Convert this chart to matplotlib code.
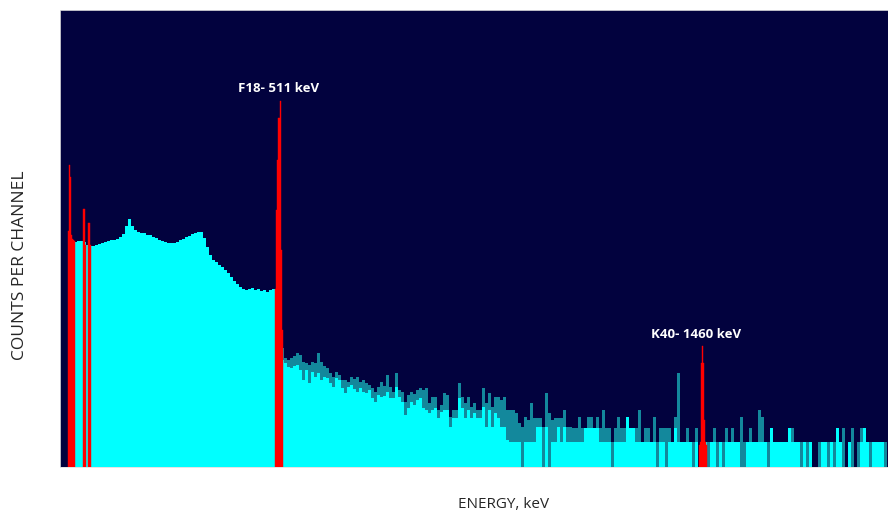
import matplotlib
matplotlib.use("Agg")
import matplotlib.pyplot as plt
import numpy as np

# energy calibration of the channels
first_channel_kev = 25.0
kev_per_channel = 6.714

# smooth part of the spectrum, channels 0-72 (below the 511 keV line)
continuum = [0, 0, 225, 225, 225, 226, 226, 225, 222, 221,
             221, 222, 223, 224, 225, 226, 227, 227, 228, 230,
             233, 241, 248, 241, 237, 235, 234, 234, 232, 232,
             230, 229, 227, 226, 225, 224, 224, 224, 225, 227,
             228, 230, 231, 233, 234, 235, 235, 229, 220, 212,
             207, 205, 202, 200, 197, 194, 190, 186, 183, 180,
             178, 177, 178, 179, 177, 178, 176, 177, 175, 177,
             178, 178, 178]

# noisy part above 511 keV: highest and lowest counts inside each channel
tail_top = [119, 109, 107, 109, 111, 114, 112, 105, 104, 102,
            105, 104, 114, 105, 101, 99, 94, 90, 95, 92,
            87, 87, 85, 90, 88, 90, 85, 87, 84, 82,
            79, 75, 80, 85, 81, 92, 80, 75, 94, 77,
            75, 65, 72, 75, 73, 77, 79, 77,
            79, 64, 70, 70, 57, 62, 74, 72, 50, 57,
            57, 84, 70, 64, 70, 60, 64, 57, 57, 79,
            64, 74, 60, 70, 70, 67, 70, 57, 57, 57,
            54, 44, 40, 50, 47, 64, 49, 49, 49, 40,
            74, 54, 47, 49, 49, 49, 57, 40, 40, 39,
            39, 50, 39, 39, 50, 50, 39, 50, 39, 57,
            39, 39, 25, 39, 50, 39, 39, 50, 39, 39,
            39, 57, 25, 39, 39, 25, 50, 25, 39, 39,
            39, 39, 25, 50, 94, 25, 25, 39, 25, 25,
            39, 0, 25, 25, 25, 25, 39, 25, 25, 25,
            39, 25,
            39, 25, 25, 50, 25, 25, 39, 25, 25, 57,
            50, 25, 25, 39, 25, 25, 25, 25, 25, 39,
            39, 25, 25, 25, 25, 25, 25, 0, 0, 25,
            25, 25, 25, 25, 25, 39, 25, 39, 0, 25,
            39, 0, 25, 39, 39, 25, 25, 25, 25, 25,
            25, 25]

tail_floor = [107, 104, 100, 99, 101, 102, 97, 87, 97, 84,
              95, 90, 94, 87, 90, 89, 84, 80, 89, 87,
              79, 74, 80, 82, 78, 75, 79, 75, 74, 77,
              69, 65, 72, 70, 71, 75, 69, 69, 80, 70,
              65, 52, 59, 65, 62, 67, 69, 59,
              57, 54, 57, 59, 49, 55, 57, 57, 40, 49,
              49, 69, 59, 49, 57, 49, 54, 49, 49, 60,
              40, 57, 40, 54, 49, 40, 40, 27, 25, 25,
              25, 25, 0, 25, 25, 25, 25, 40, 40, 0,
              40, 0, 25, 25, 40, 25, 40, 25, 25, 25,
              25, 25, 25, 39, 39, 39, 39, 39, 25, 25,
              25, 25, 0, 25, 25, 25, 25, 50, 39, 39,
              25, 25, 25, 25, 25, 25, 25, 0, 25, 25,
              0, 25, 25, 39, 25, 25, 25, 25, 25, 0,
              25, 0, 25, 25, 0, 25, 25, 0, 25, 0,
              25, 25,
              25, 25, 25, 0, 0, 25, 25, 25, 25, 25,
              25, 25, 0, 39, 25, 25, 25, 25, 25, 39,
              25, 25, 25, 0, 25, 0, 25, 0, 0, 0,
              25, 25, 0, 25, 0, 39, 25, 0, 0, 25,
              0, 0, 0, 25, 39, 25, 0, 25, 25, 25,
              25, 0]

# highlighted peaks (regions of interest), drawn in red
roi_kev = [39.6, 41.8, 44.0, 46.3, 48.5, 50.7, 53.0,
           73.1, 75.3, 77.6, 84.3, 86.5, 88.8,
           502.8, 505.0, 507.3, 509.5, 511.7, 514.0, 516.2, 518.4,
           1451.8, 1454.0, 1456.2, 1458.5, 1460.7, 1462.9, 1465.2, 1467.4]
roi_counts = [236, 302, 290, 232, 228, 227, 226,
              258, 258, 222, 244, 244, 222,
              178, 257, 307, 349, 349, 366, 217, 137,
              22, 25, 104, 121, 104, 47, 25, 22]
roi_width_kev = 2.24

peak_labels = ["F18- 511 keV", "K40- 1460 keV"]
peak_label_kev = [509, 1444]
peak_label_counts = [378, 132]

top = np.array(continuum + tail_top)
floor = np.array(continuum + tail_floor)
edges = first_channel_kev + kev_per_channel * np.arange(len(top) + 1)

fig = plt.figure(figsize=(8.88, 5.15), dpi=100)
ax = fig.add_axes([0.0676, 0.0932, 0.9324, 0.8874])
ax.set_facecolor("#02023e")

ax.stairs(top, edges, fill=True, color="#13889c")
ax.stairs(floor, edges, fill=True, color="#00ffff")
ax.bar(roi_kev, roi_counts, width=roi_width_kev, color="#ff0000",
       edgecolor="#ff0000", linewidth=0.3)

for txt, e, c in zip(peak_labels, peak_label_kev, peak_label_counts):
    ax.text(e, c, txt, color="white", fontsize=9.5, fontweight="bold",
            family="Open Sans", ha="center", va="center")

ax.set_xlim(20.5, 1873.6)
ax.set_ylim(0, 457)
ax.set_xticks([])
ax.set_yticks([])
for s in ax.spines.values():
    s.set_color("#e0e0e0")
    s.set_linewidth(0.6)

ax.set_xlabel("ENERGY, keV", family="Open Sans", fontsize=11, color="#262626")
ax.xaxis.set_label_coords(0.536, -0.066)
ax.set_ylabel("COUNTS PER CHANNEL", family="Open Sans", fontsize=12.5, color="#262626")
ax.yaxis.set_label_coords(-0.039, 0.442)

fig.savefig("out.png", dpi=100, facecolor="white")
